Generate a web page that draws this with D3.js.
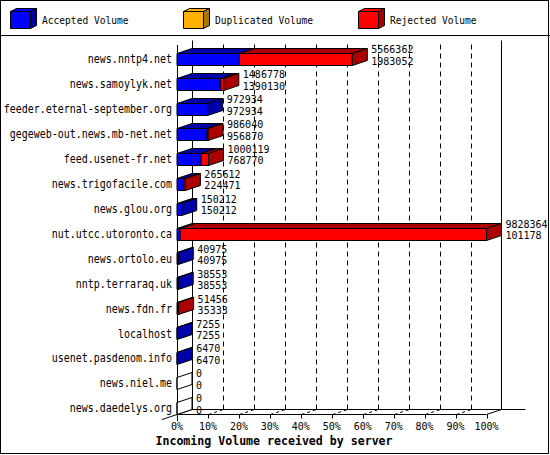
<!DOCTYPE html>
<html><head><meta charset="utf-8">
<script src="https://cdn.jsdelivr.net/npm/d3@7"></script>
<style>html,body{margin:0;padding:0;background:#fff}svg{display:block}</style>
</head><body>
<script>
const categories = ["news.nntp4.net","news.samoylyk.net","feeder.eternal-september.org","gegeweb-out.news.mb-net.net","feed.usenet-fr.net","news.trigofacile.com","news.glou.org","nut.utcc.utoronto.ca","news.ortolo.eu","nntp.terraraq.uk","news.fdn.fr","localhost","usenet.pasdenom.info","news.niel.me","news.daedelys.org"];
const totalVolume    = [5566362,1486778,972934,986040,1000119,265612,150212,9828364,40975,38553,51456,7255,6470,0,0];
const acceptedVolume = [1983052,1390130,972934,956870,768770,224471,150212,101178,40975,38553,35333,7255,6470,0,0];
const duplicatedVolume = [0,0,0,0,0,0,0,0,0,0,0,0,0,0,0];
const rejectedVolume = [3583310,96648,0,29170,231349,41141,0,9727186,0,0,16123,0,0,0,0];
const seriesNames = ["Accepted Volume","Duplicated Volume","Rejected Volume"];
const tickValues = [0,10,20,30,40,50,60,70,80,90,100];
const tickLabels = ["0%","10%","20%","30%","40%","50%","60%","70%","80%","90%","100%"];
const axisTitle = "Incoming Volume received by server";

const W = 550, H = 455;
const frontCol = ["#0000ff","#ffb000","#ff0000"];
const darkCol  = ["#0000aa","#aa7800","#aa0000"];
const DX = 15, DY = 5, HB = 6;
const FONT = "'DejaVu Sans Mono', 'Liberation Mono', monospace";

const svg = d3.select("body").append("svg").attr("width", W).attr("height", H);
svg.append("rect").attr("x",0.5).attr("y",0.5).attr("width",W-2).attr("height",H-2)
  .attr("fill","#fff").attr("stroke","#000");

function txt(g, x, y, s, anchor, size, weight, sy) {
  return g.append("text").attr("transform", `translate(${x},${y}) scale(1,${sy})`)
    .attr("dy","0.36em").attr("text-anchor", anchor).attr("font-family", FONT)
    .attr("font-size", size).attr("font-weight", weight || "normal").attr("fill","#000").text(s);
}
const poly = (g, pts, fill) => g.append("polygon").attr("points", pts.map(p=>p.join(",")).join(" "))
  .attr("fill", fill).attr("stroke","#000").attr("stroke-width",1).attr("stroke-linejoin","miter");
const line = (g, x1,y1,x2,y2, dash) => g.append("line").attr("x1",x1).attr("y1",y1).attr("x2",x2).attr("y2",y2)
  .attr("stroke","#000").attr("stroke-width",1).attr("stroke-dasharray", dash || null);

// Legend
const lg = svg.append("g");
const legendX = d3.scaleOrdinal().domain(seriesNames).range([10.5,183.5,358.5]);
seriesNames.forEach((name,i) => {
  const x0 = legendX(name), y0 = 11.5, w = 20, h = 17, dx = 6, dy = 3;
  poly(lg, [[x0,y0],[x0+w,y0],[x0+w+dx,y0-dy],[x0+dx,y0-dy]], frontCol[i]);
  poly(lg, [[x0+w,y0],[x0+w+dx,y0-dy],[x0+w+dx,y0+h-dy],[x0+w,y0+h]], darkCol[i]);
  poly(lg, [[x0,y0],[x0+w,y0],[x0+w,y0+h],[x0,y0+h]], frontCol[i]);
  txt(lg, x0+31.5, 20, name, "start", 9.6, "normal", 1.18);
});
line(svg, 0, 35.5, W, 35.5);

// Scales
const x = d3.scaleLinear().domain([0, d3.max(totalVolume)]).range([177, 486.5]);
const pct = d3.scaleLinear().domain([0,100]).range([177, 486.5]);
const y = d3.scaleBand().domain(categories).range([46.5, 420.5]);
const cy = c => y(c) + y.bandwidth()/2;
const floorFront = Math.round(cy(categories[categories.length-1]) + HB) + 0.5;
const floorBack = floorFront - DY;
const wallTop = 40.5;

const grid = svg.append("g");
// back wall
line(grid, pct(0)+DX+0.5, wallTop, pct(0)+DX+0.5, floorBack);
line(grid, pct(100)+DX, wallTop, pct(100)+DX, floorBack);
tickValues.slice(1,-1).forEach(t => {
  const xf = Math.round(pct(t)) + 0.5;
  line(grid, xf+DX, floorBack, xf+DX, wallTop, "5,4");
  line(grid, xf, floorFront, xf+DX, floorBack, "3,3");
});
// floor
line(grid, pct(0)+DX, floorBack, pct(100)+DX+24, floorBack);
line(grid, pct(0), floorFront, pct(100), floorFront);
line(grid, pct(100), floorFront, pct(100)+DX, floorBack);
line(grid, pct(0)-DX, floorFront+DY, pct(0)+DX, floorBack);
line(grid, pct(0)+0.5, 45, pct(0)+0.5, 421);
tickValues.forEach(t => {
  const xf = Math.round(pct(t)) + 0.5;
  line(grid, xf, floorFront, xf, floorFront+4);
});

// Bars
const bars = svg.append("g");
categories.forEach((c,i) => {
  const vals = [acceptedVolume[i], duplicatedVolume[i], rejectedVolume[i]];
  const yc = Math.round(cy(c)) + 0.5;
  const yt = yc - HB, yb = yc + HB;
  let acc = 0, last = -1, segs = [];
  vals.forEach((v,k) => {
    const x0 = x(acc), x1 = x(acc+v);
    acc += v;
    if (v > 0) { segs.push([x0,x1,k]); last = k; }
  });
  segs.forEach(([x0,x1,k]) => {
    poly(bars, [[x0,yt],[x1,yt],[x1,yb],[x0,yb]], frontCol[k]);
    poly(bars, [[x0,yt],[x1,yt],[x1+DX,yt-DY],[x0+DX,yt-DY]], darkCol[k]);
  });
  const xe = x(acc);
  poly(bars, [[xe,yt],[xe+DX,yt-DY],[xe+DX,yb-DY],[xe,yb]], last >= 0 ? darkCol[last] : "#fff");
  if (last < 0) line(bars, xe, yt, xe, yb);
  // labels
  const lx = xe + DX + 4;
  txt(bars, lx, cy(c) - 9.5, String(totalVolume[i]), "start", 10, "normal", 1.05);
  txt(bars, lx, cy(c) + 2, String(acceptedVolume[i]), "start", 10, "normal", 1.05);
  txt(bars, 172, cy(c), c, "end", 10, "normal", 1.2);
});

// Tick labels & title
tickValues.forEach((t,i) => txt(svg, pct(t), 426.5, tickLabels[i], "middle", 10, "normal", 1.1));
txt(svg, 274, 441, axisTitle, "middle", 11.6, "bold", 1.05);
</script>
</body></html>
